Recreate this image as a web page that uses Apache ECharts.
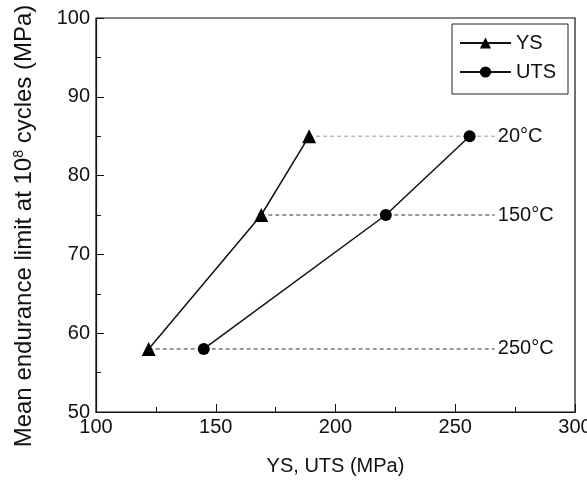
<!DOCTYPE html>
<html><head><meta charset="utf-8">
<script src="https://cdn.jsdelivr.net/npm/echarts@6/dist/echarts.min.js"></script>
<style>html,body{margin:0;padding:0;background:#fff}#c{width:587px;height:488px}</style>
</head><body><div id="c"></div>
<script>
const enduranceY = [58, 75, 85];
const ysX = [122, 169, 189];
const utsX = [145, 221, 256];
const tempLabels = ['250°C', '150°C', '20°C'];
const refLineEndX = 266.5;
const xTicks = [100, 150, 200, 250, 300];
const yTicks = [50, 60, 70, 80, 90, 100];

const font = 'Liberation Sans, Arial, sans-serif';
const chart = echarts.init(document.getElementById('c'), null, {renderer: 'canvas'});

const refSeries = enduranceY.map((y, i) => ({
  type: 'line',
  name: 'ref' + i,
  data: [[ysX[i], y], [refLineEndX, y]],
  symbol: 'none',
  z: 1,
  lineStyle: {color: i === 2 ? '#999' : '#333', width: 1, type: [4, 3]},
  endLabel: {show: true, formatter: tempLabels[i], color: '#111', fontSize: 20, fontFamily: font, distance: 3},
  silent: true
}));

chart.setOption({
  animation: false,
  backgroundColor: '#fff',
  grid: {left: 96, right: 12, top: 18, bottom: 76, show: true, borderColor: '#111', borderWidth: 1.2, outerBoundsMode: 'none', containLabel: false},
  legend: {
    data: ['YS', 'UTS'],
    orient: 'vertical',
    right: 19, top: 24,
    itemWidth: 51, itemHeight: 14, itemGap: 9,
    padding: [9, 12, 12, 7],
    borderColor: '#222', borderWidth: 1,
    textStyle: {fontSize: 20, fontFamily: font, color: '#111'}
  },
  xAxis: {
    type: 'value', min: 100, max: 300, interval: 50,
    name: 'YS, UTS (MPa)', nameLocation: 'middle', nameGap: 44,
    nameTextStyle: {fontSize: 20, fontFamily: font, color: '#111'},
    axisLine: {onZero: false, lineStyle: {color: '#111', width: 1.2}},
    axisTick: {inside: true, length: 8, lineStyle: {color: '#111'}},
    minorTick: {show: true, splitNumber: 2, length: 5, lineStyle: {color: '#111'}},
    splitLine: {show: false},
    axisLabel: {fontSize: 20, fontFamily: font, color: '#111', margin: 5}
  },
  yAxis: {
    type: 'value', min: 50, max: 100, interval: 10,
    name: '{a|Mean endurance limit at 10}{s|8}{a| cycles (MPa)}', nameLocation: 'middle', nameGap: 60,
    nameTextStyle: {fontSize: 24, fontFamily: font, color: '#111', padding: [0, 22, 0, 0],
      rich: {a: {fontSize: 24, fontFamily: font, color: '#111'}, s: {fontSize: 14, fontFamily: font, color: '#111', verticalAlign: 'top', padding: [0, 0, 10, 0]}}},
    axisLine: {onZero: false, lineStyle: {color: '#111', width: 1.2}},
    axisTick: {inside: true, length: 8, lineStyle: {color: '#111'}},
    minorTick: {show: true, splitNumber: 2, length: 5, lineStyle: {color: '#111'}},
    splitLine: {show: false},
    axisLabel: {fontSize: 20, fontFamily: font, color: '#111', margin: 6}
  },
  series: [
    ...refSeries,
    {
      type: 'line', name: 'YS', z: 3,
      data: ysX.map((x, i) => [x, enduranceY[i]]),
      symbol: 'triangle', symbolSize: 14,
      itemStyle: {color: '#000'},
      lineStyle: {color: '#111', width: 1.5}
    },
    {
      type: 'line', name: 'UTS', z: 3,
      data: utsX.map((x, i) => [x, enduranceY[i]]),
      symbol: 'circle', symbolSize: 12,
      itemStyle: {color: '#000'},
      lineStyle: {color: '#111', width: 1.5}
    }
  ]
});
</script></body></html>
